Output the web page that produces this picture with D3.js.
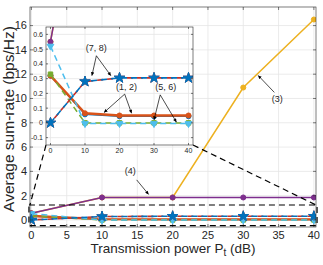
<!DOCTYPE html>
<html>
<head>
<meta charset="utf-8">
<script src="https://cdn.jsdelivr.net/npm/d3@7"></script>
<style>
  body { margin: 0; background: #fff; }
  text { font-family: "Liberation Sans", Arial, sans-serif; fill: #262626; }
</style>
</head>
<body>
<svg width="323" height="265"></svg>
<script>
const W = 323, H = 265;

// data
const power = [0, 10, 20, 30, 40];
const rate1 = [0.32, 0.065, 0.05, 0.05, 0.05];     // orange solid
const rate2 = [0.32, 0.058, 0.045, 0.045, 0.045];  // blue solid
const rate3 = [0.55, 1.85, 1.85, 10.9, 16.5];      // yellow
const rate4 = [0.55, 1.85, 1.85, 1.85, 1.85];      // purple
const rate5 = [0.33, 0, 0, 0, 0];                  // green dashed
const rate6 = [0.52, -0.005, -0.005, -0.005, -0.005]; // cyan dashed
const rate7 = [0, 0.28, 0.305, 0.305, 0.305];      // red dashed
const rate8 = [0, 0.28, 0.305, 0.305, 0.305];      // blue dashed
const xTicks = [0, 5, 10, 15, 20, 25, 30, 35, 40];
const yTicks = [0, 2, 4, 6, 8, 10, 12, 14, 16];
const inXTicks = [0, 10, 20, 30, 40];
const inYTicks = [-0.1, 0, 0.1, 0.2, 0.3, 0.4, 0.5, 0.6];

const series = [
  {v: rate3, color: "#EDB120", dash: null, w: 1.5, marker: "circle"},
  {v: rate4, color: "#7E2F8E", dash: null, w: 1.5, marker: "circle"},
  {v: rate2, color: "#0072BD", dash: null, w: 1.5, marker: "circle"},
  {v: rate1, color: "#D95319", dash: null, w: 2.4, marker: "circle"},
  {v: rate5, color: "#77AC30", dash: "6,4", w: 1.5, marker: "square"},
  {v: rate6, color: "#4DBEEE", dash: "6,4", w: 1.5, marker: "triangle"},
  {v: rate7, color: "#C4302B", dash: "6,4", w: 1.6, marker: "star", off: 4},
  {v: rate8, color: "#0072BD", dash: "6,4", w: 1.6, marker: "star"}
];

const svg = d3.select("svg");

// main axes
const x = d3.scaleLinear().domain([-0.2, 40.3]).range([30, 316]);
const y = d3.scaleLinear().domain([-0.58, 17.53]).range([227, 7]);

function drawPanel(g, sx, sy, xt, yt, fs, tickLen, clipId) {
  const [x0, x1] = sx.range(), [y0, y1] = sy.range();
  g.append("rect").attr("x", x0).attr("y", y1).attr("width", x1 - x0).attr("height", y0 - y1).attr("fill", "#fff");
  // grid
  g.append("g").selectAll("line").data(xt).join("line")
    .attr("x1", d => sx(d)).attr("x2", d => sx(d)).attr("y1", y0).attr("y2", y1)
    .attr("stroke", "#e6e6e6").attr("stroke-width", 0.8);
  g.append("g").selectAll("line").data(yt).join("line")
    .attr("y1", d => sy(d)).attr("y2", d => sy(d)).attr("x1", x0).attr("x2", x1)
    .attr("stroke", "#e6e6e6").attr("stroke-width", 0.8);

  svg.append("clipPath").attr("id", clipId).append("rect")
    .attr("x", x0).attr("y", y1).attr("width", x1 - x0).attr("height", y0 - y1);
  const plot = g.append("g").attr("clip-path", `url(#${clipId})`);

  const line = d3.line().x((d, i) => sx(power[i])).y(d => sy(d));
  series.forEach(s => {
    plot.append("path").attr("d", line(s.v)).attr("fill", "none")
      .attr("stroke", s.color).attr("stroke-width", s.w)
      .attr("stroke-dasharray", s.dash).attr("stroke-dashoffset", s.off || 0);
    const sym = {circle: d3.symbolCircle, square: d3.symbolSquare, triangle: d3.symbolTriangle, star: d3.symbolStar}[s.marker];
    const size = s.marker === "star" ? 34 : 20;
    plot.selectAll(null).data(s.v).join("path")
      .attr("d", d3.symbol(sym, size))
      .attr("transform", (d, i) => `translate(${sx(power[i])},${sy(d)})` + (s.marker === "triangle" ? " rotate(180)" : ""))
      .attr("fill", s.color)
      .attr("stroke", s.color).attr("stroke-width", 1);
  });

  // frame
  g.append("rect").attr("x", x0).attr("y", y1).attr("width", x1 - x0).attr("height", y0 - y1)
    .attr("fill", "none").attr("stroke", "#262626").attr("stroke-width", 0.6);
  // ticks
  g.append("g").selectAll("line").data(xt).join("line")
    .attr("x1", d => sx(d)).attr("x2", d => sx(d)).attr("y1", y0).attr("y2", y0 - tickLen)
    .attr("stroke", "#262626").attr("stroke-width", 0.6);
  g.append("g").selectAll("line").data(xt).join("line")
    .attr("x1", d => sx(d)).attr("x2", d => sx(d)).attr("y1", y1).attr("y2", y1 + tickLen)
    .attr("stroke", "#262626").attr("stroke-width", 0.6);
  g.append("g").selectAll("line").data(yt).join("line")
    .attr("y1", d => sy(d)).attr("y2", d => sy(d)).attr("x1", x0).attr("x2", x0 + tickLen)
    .attr("stroke", "#262626").attr("stroke-width", 0.6);
  g.append("g").selectAll("line").data(yt).join("line")
    .attr("y1", d => sy(d)).attr("y2", d => sy(d)).attr("x1", x1).attr("x2", x1 - tickLen)
    .attr("stroke", "#262626").attr("stroke-width", 0.6);
  // labels
  g.append("g").selectAll("text").data(xt).join("text")
    .attr("x", d => sx(d)).attr("y", y0 + fs + 1).attr("text-anchor", "middle")
    .attr("font-size", fs).text(d => d);
  g.append("g").selectAll("text").data(yt).join("text")
    .attr("x", x0 - 3).attr("y", d => sy(d)).attr("dy", "0.35em").attr("text-anchor", "end")
    .attr("font-size", fs).text(d => d);
}

drawPanel(svg.append("g"), x, y, xTicks, yTicks, 11, 3, "clipMain");

// zoom rectangle and connectors
const rx0 = x(-0.35), rx1 = x(40.45), ry0 = y(1.23), ry1 = y(-0.47);
const zoomG = svg.append("g").attr("fill", "none").attr("stroke", "#000").attr("stroke-width", 1.2).attr("stroke-dasharray", "6,4");
zoomG.append("rect").attr("x", rx0).attr("y", ry0).attr("width", rx1 - rx0).attr("height", ry1 - ry0);

// inset axes
const ix = d3.scaleLinear().domain([-1.3, 41.3]).range([46, 193]);
const iy = d3.scaleLinear().domain([-0.15, 0.65]).range([145, 27]);
zoomG.append("line").attr("x1", ix.range()[0]).attr("y1", 145).attr("x2", rx0 + 1).attr("y2", ry0);
zoomG.append("line").attr("x1", ix.range()[1]).attr("y1", 145).attr("x2", rx1 - 1).attr("y2", ry0);

drawPanel(svg.append("g"), ix, iy, inXTicks, inYTicks, 7, 2, "clipInset");

// axis titles
svg.append("text").attr("transform", `translate(14,${(7 + 227) / 2 + 2}) rotate(-90)`)
  .attr("text-anchor", "middle").attr("font-size", 15.5).text("Average sum-rate (bps/Hz)");
const xl = svg.append("text").attr("x", (30 + 316) / 2).attr("y", 253).attr("text-anchor", "middle").attr("font-size", 13.5);
xl.append("tspan").text("Transmission power P");
xl.append("tspan").attr("font-size", 10).attr("dy", 3).text("t");
xl.append("tspan").attr("dy", -3).text(" (dB)");

// annotations: label, label position, tail, tips (in the named axis coords)
const notes = [
  {t: "(3)", sx: x, sy: y, at: [34.8, 9.7], tail: [34.4, 10.5], tips: [[32.1, 11.9]]},
  {t: "(4)", sx: x, sy: y, at: [14.0, 3.8], tail: [14.9, 3.3], tips: [[16.6, 2.1]]},
  {t: "(7, 8)", sx: ix, sy: iy, at: [13.3, 0.49], tail: [13.3, 0.455], tips: [[12.0, 0.32], [17.5, 0.32]]},
  {t: "(1, 2)", sx: ix, sy: iy, at: [22.0, 0.225], tail: [21.5, 0.195], tips: [[15.5, 0.07], [23.5, 0.065]]},
  {t: "(5, 6)", sx: ix, sy: iy, at: [33.4, 0.22], tail: [31.8, 0.19], tips: [[30.0, 0.02], [36.5, 0.005]]}
];
const defs = svg.append("defs");
defs.append("marker").attr("id", "ah").attr("viewBox", "0 0 10 10").attr("refX", 10).attr("refY", 5)
  .attr("markerWidth", 6).attr("markerHeight", 5).attr("orient", "auto")
  .append("path").attr("d", "M0,0L10,5L0,10z").attr("fill", "#000");
notes.forEach(n => {
  svg.append("text").attr("x", n.sx(n.at[0])).attr("y", n.sy(n.at[1])).attr("text-anchor", "middle")
    .attr("font-size", 9).text(n.t);
  n.tips.forEach(tp => {
    svg.append("line").attr("x1", n.sx(n.tail[0])).attr("y1", n.sy(n.tail[1]))
      .attr("x2", n.sx(tp[0])).attr("y2", n.sy(tp[1]))
      .attr("stroke", "#000").attr("stroke-width", 0.7).attr("marker-end", "url(#ah)");
  });
});
</script>
</body>
</html>
